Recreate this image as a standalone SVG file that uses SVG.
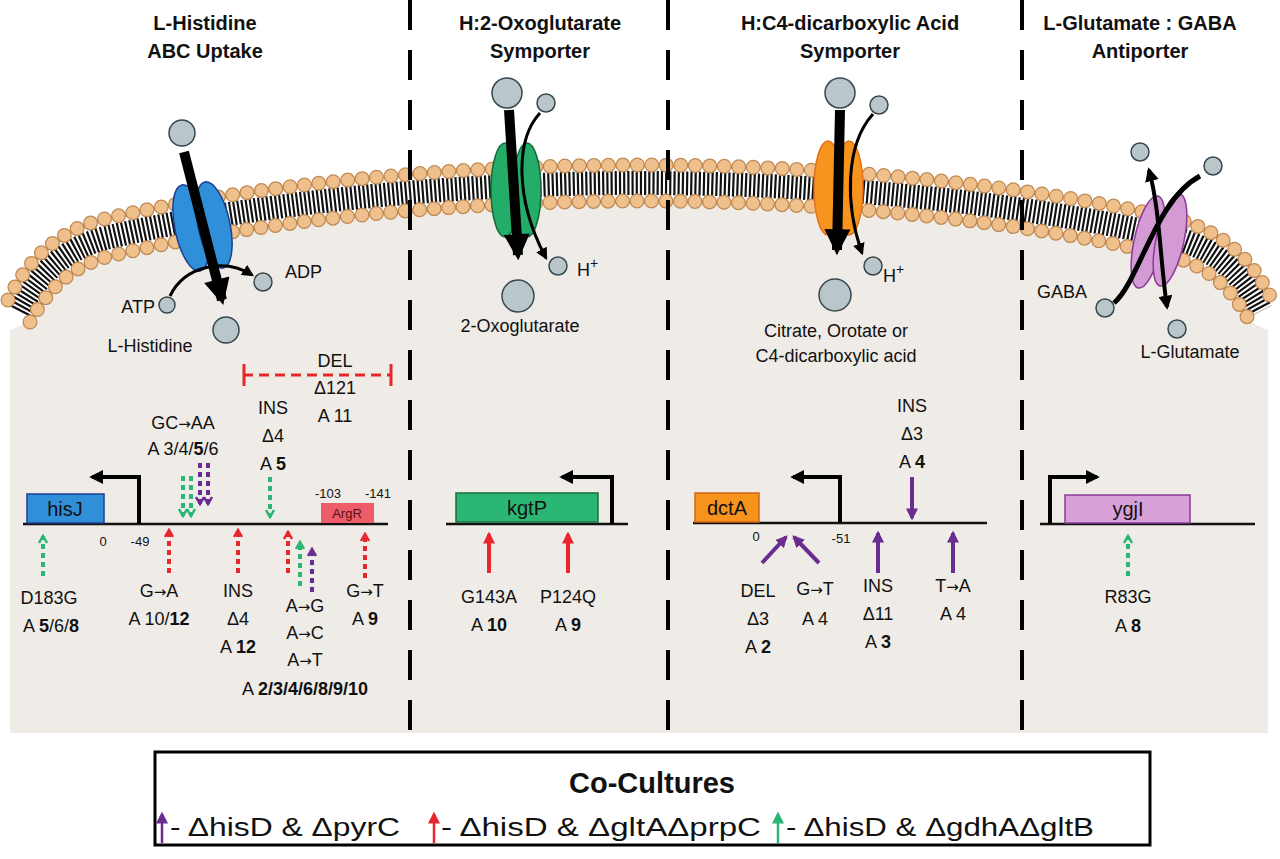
<svg xmlns="http://www.w3.org/2000/svg" width="1280" height="859" viewBox="0 0 1280 859">
<style>
text{font-family:"Liberation Sans",Arial,sans-serif;fill:#111}
.t{font-size:18px;text-anchor:middle}
.ttl{font-size:20px;font-weight:bold;text-anchor:middle}
.sm{font-size:13px;text-anchor:middle}
.b{font-weight:bold}
.ar{font-family:"DejaVu Sans",sans-serif;font-size:15px}
.mol{fill:#b9c6ca;stroke:#37474f;stroke-width:1.5}
.div{stroke:#000;stroke-width:4;stroke-dasharray:30 20}
.base{stroke:#111;stroke-width:2.5}
.prom{fill:none;stroke:#000;stroke-width:4}
.big{stroke:#000;stroke-width:10;fill:none}
.thin{stroke:#000;stroke-width:3;fill:none}
.dp{stroke:#6a2c91;stroke-width:4;stroke-dasharray:5 4;fill:none}
.dr{stroke:#e8262b;stroke-width:4;stroke-dasharray:5 4;fill:none}
.dg{stroke:#2bb673;stroke-width:4;stroke-dasharray:5 4;fill:none}
.sp{stroke:#6a2c91;stroke-width:4;fill:none}
.sr{stroke:#e8262b;stroke-width:4;fill:none}
.ho{fill:none;stroke:#c08a55;stroke-width:15;stroke-linecap:round;stroke-dasharray:0 14.5}
.hi{fill:none;stroke:#f0c08c;stroke-width:12.5;stroke-linecap:round;stroke-dasharray:0 14.5}
</style>
<defs>
<marker id="hBig" viewBox="0 0 10 10" refX="8" refY="5" markerUnits="userSpaceOnUse" markerWidth="28" markerHeight="26" orient="auto"><path d="M0,0 L10,5 L0,10 Z" fill="#000"/></marker>
<marker id="hThin" viewBox="0 0 10 10" refX="8" refY="5" markerUnits="userSpaceOnUse" markerWidth="12" markerHeight="12" orient="auto"><path d="M0,0 L10,5 L0,10 Z" fill="#000"/></marker>
<marker id="hBlk" viewBox="0 0 10 10" refX="8" refY="5" markerUnits="userSpaceOnUse" markerWidth="14" markerHeight="14" orient="auto-start-reverse"><path d="M0,0 L10,5 L0,10 Z" fill="#000"/></marker>
<marker id="cP" viewBox="0 0 10 10" refX="8" refY="5" markerUnits="userSpaceOnUse" markerWidth="10" markerHeight="10" orient="auto"><path d="M1,1 L8,5 L1,9" fill="none" stroke="#6a2c91" stroke-width="2.5"/></marker>
<marker id="cR" viewBox="0 0 10 10" refX="8" refY="5" markerUnits="userSpaceOnUse" markerWidth="10" markerHeight="10" orient="auto"><path d="M1,1 L8,5 L1,9" fill="none" stroke="#e8262b" stroke-width="2.5"/></marker>
<marker id="cG" viewBox="0 0 10 10" refX="8" refY="5" markerUnits="userSpaceOnUse" markerWidth="10" markerHeight="10" orient="auto"><path d="M1,1 L8,5 L1,9" fill="none" stroke="#2bb673" stroke-width="2.5"/></marker>
<marker id="fP" viewBox="0 0 10 10" refX="8" refY="5" markerUnits="userSpaceOnUse" markerWidth="12" markerHeight="12" orient="auto"><path d="M0,0 L10,5 L0,10 Z" fill="#6a2c91"/></marker>
<marker id="fR" viewBox="0 0 10 10" refX="8" refY="5" markerUnits="userSpaceOnUse" markerWidth="12" markerHeight="12" orient="auto"><path d="M0,0 L10,5 L0,10 Z" fill="#e8262b"/></marker>
<marker id="fG" viewBox="0 0 10 10" refX="8" refY="5" markerUnits="userSpaceOnUse" markerWidth="12" markerHeight="12" orient="auto"><path d="M0,0 L10,5 L0,10 Z" fill="#2bb673"/></marker>
<path id="pOut" d="M8,300 C30,255 60,232 100,220 C250,185 450,165 640,165 C830,165 1030,185 1180,220 C1220,232 1250,255 1272,300"/>
<path id="pIn" d="M30,322 C50,285 75,265 110,256 C260,220 455,201 640,201 C825,201 1020,220 1170,256 C1205,265 1230,285 1250,322"/>
</defs>
<rect width="1280" height="859" fill="#fff"/>
<path d="M30,322 C50,285 75,265 110,256 C260,220 455,201 640,201 C825,201 1020,220 1170,256 C1205,265 1230,285 1250,322 L1268,330 L1268,733 L10,733 L10,330 Z" fill="#efebe6"/>
<g id="membrane">
<path d="M19,311 C40,270 68,248 105,238 C255,203 452,183 640,183 C828,183 1025,203 1175,238 C1212,248 1240,270 1261,311" fill="none" stroke="#111" stroke-width="24" stroke-dasharray="2.2 2"/>
<use href="#pOut" class="ho"/><use href="#pOut" class="hi"/>
<use href="#pIn" class="ho"/><use href="#pIn" class="hi"/>
</g>
<g id="dividers">
<line class="div" x1="410" y1="0" x2="410" y2="735"/>
<line class="div" x1="668" y1="0" x2="668" y2="735"/>
<line class="div" x1="1022" y1="0" x2="1022" y2="735"/>
</g>
<g id="titles">
<text class="ttl" x="205" y="30">L-Histidine</text><text class="ttl" x="205" y="58">ABC Uptake</text>
<text class="ttl" x="540" y="30">H:2-Oxoglutarate</text><text class="ttl" x="540" y="58">Symporter</text>
<text class="ttl" x="850" y="30">H:C4-dicarboxylic Acid</text><text class="ttl" x="850" y="58">Symporter</text>
<text class="ttl" x="1140" y="30">L-Glutamate : GABA</text><text class="ttl" x="1140" y="58">Antiporter</text>
</g>
<g id="abc">
<ellipse cx="191" cy="228" rx="16" ry="44" transform="rotate(-12 191 228)" fill="#2f8fd8" stroke="#1d3f8f" stroke-width="1.5"/>
<ellipse cx="214" cy="225" rx="16" ry="44" transform="rotate(-12 214 225)" fill="#2f8fd8" stroke="#1d3f8f" stroke-width="1.5"/>
<circle class="mol" cx="182" cy="133" r="13"/>
<line class="big" x1="184" y1="152" x2="222" y2="300" marker-end="url(#hBig)"/>
<circle class="mol" cx="226" cy="330" r="13"/>
<path class="thin" d="M170,296 C185,265 225,258 252,275" marker-end="url(#hThin)"/>
<circle class="mol" cx="167" cy="305" r="8"/>
<circle class="mol" cx="263" cy="282" r="9"/>
<text x="155" y="313" style="font-size:18px;text-anchor:end">ATP</text>
<text x="285" y="278" style="font-size:18px">ADP</text>
<text class="t" x="150" y="352">L-Histidine</text>
</g>
<g id="kgtp-transporter">
<ellipse cx="505" cy="190" rx="14" ry="47" fill="#23ad68" stroke="#136b3a" stroke-width="1.5"/>
<ellipse cx="527" cy="190" rx="14" ry="47" fill="#23ad68" stroke="#136b3a" stroke-width="1.5"/>
<circle class="mol" cx="507" cy="93" r="15"/>
<circle class="mol" cx="546" cy="103" r="9"/>
<line class="big" x1="509" y1="110" x2="518" y2="255" marker-end="url(#hBig)"/>
<path class="thin" d="M540,113 C515,140 515,200 546,258" marker-end="url(#hThin)"/>
<circle class="mol" cx="518" cy="296" r="16"/>
<circle class="mol" cx="558" cy="266" r="9"/>
<text x="577" y="276" style="font-size:18px">H<tspan dy="-8" font-size="14">+</tspan></text>
<text class="t" x="520" y="332">2-Oxoglutarate</text>
</g>
<g id="dcta-transporter">
<ellipse cx="828" cy="188" rx="14" ry="47" fill="#f7941d" stroke="#e0701a" stroke-width="1.5"/>
<ellipse cx="849" cy="188" rx="14" ry="47" fill="#f7941d" stroke="#e0701a" stroke-width="1.5"/>
<circle class="mol" cx="840" cy="93" r="15"/>
<circle class="mol" cx="879" cy="105" r="9"/>
<line class="big" x1="840" y1="110" x2="837" y2="250" marker-end="url(#hBig)"/>
<path class="thin" d="M873,114 C845,145 845,205 862,253" marker-end="url(#hThin)"/>
<circle class="mol" cx="835" cy="295" r="16"/>
<circle class="mol" cx="873" cy="266" r="9"/>
<text x="883" y="282" style="font-size:18px">H<tspan dy="-8" font-size="14">+</tspan></text>
<text class="t" x="836" y="337">Citrate, Orotate or</text>
<text class="t" x="836" y="362">C4-dicarboxylic acid</text>
</g>
<g id="gaba-transporter">
<ellipse cx="1148" cy="242" rx="14" ry="47" transform="rotate(12 1148 242)" fill="#d39ad3" stroke="#8a3a9a" stroke-width="1.5"/>
<ellipse cx="1170" cy="240" rx="14" ry="47" transform="rotate(12 1170 240)" fill="#d39ad3" stroke="#8a3a9a" stroke-width="1.5"/>
<circle class="mol" cx="1140" cy="152" r="9"/>
<circle class="mol" cx="1213" cy="166" r="9"/>
<circle class="mol" cx="1105" cy="308" r="9"/>
<circle class="mol" cx="1177" cy="329" r="9"/>
<path d="M1114,303 C1140,280 1155,200 1200,176" fill="none" stroke="#000" stroke-width="5"/>
<path d="M1167,307 C1160,260 1160,210 1149,170" fill="none" stroke="#000" stroke-width="4" marker-start="url(#hBlk)" marker-end="url(#hBlk)"/>
<text class="t" x="1062" y="298">GABA</text>
<text class="t" x="1190" y="358">L-Glutamate</text>
</g>
<g id="hisJ">
<line class="base" x1="23" y1="524" x2="388" y2="524"/>
<rect x="27" y="494" width="77" height="29" fill="#2f8fd8" stroke="#1d3f8f" stroke-width="1.5"/>
<text class="t" x="65" y="516" style="font-size:20px">hisJ</text>
<path class="prom" d="M139,524 L139,477 L92,477" marker-end="url(#hBlk)"/>
<text class="sm" x="103" y="546">0</text><text class="sm" x="140" y="546">-49</text>
<text class="sm" x="328" y="498">-103</text><text class="sm" x="378" y="498">-141</text>
<rect x="321" y="503" width="53" height="20" fill="#ee5c6a"/>
<text class="sm" x="347" y="518" style="fill:#5a1010">ArgR</text>
<path d="M243,375 L392,375" stroke="#e8262b" stroke-width="3" stroke-dasharray="10 6"/>
<path d="M244,364 L244,386 M391,364 L391,386" stroke="#e8262b" stroke-width="3"/>
<text class="t" x="335" y="367">DEL</text><text class="t" x="335" y="394">Δ121</text><text class="t" x="335" y="422">A 11</text>
<text class="t" x="273" y="414">INS</text><text class="t" x="273" y="442">Δ4</text><text class="t" x="273" y="470">A <tspan class="b">5</tspan></text>
<text class="t" x="183" y="429">GC<tspan class="ar">→</tspan>AA</text><text class="t" x="183" y="455">A 3/4/<tspan class="b">5</tspan>/6</text>
<text class="t" x="49" y="604">D183G</text><text class="t" x="51" y="632">A <tspan class="b">5</tspan>/6/<tspan class="b">8</tspan></text>
<text class="t" x="159" y="597">G<tspan class="ar">→</tspan>A</text><text class="t" x="159" y="625">A 10/<tspan class="b">12</tspan></text>
<text class="t" x="238" y="597">INS</text><text class="t" x="238" y="625">Δ4</text><text class="t" x="238" y="653">A <tspan class="b">12</tspan></text>
<text class="t" x="305" y="612">A<tspan class="ar">→</tspan>G</text><text class="t" x="305" y="639">A<tspan class="ar">→</tspan>C</text><text class="t" x="305" y="666">A<tspan class="ar">→</tspan>T</text>
<text class="t" x="305" y="695">A <tspan class="b">2/3/4/6/8/9/10</tspan></text>
<text class="t" x="365" y="597">G<tspan class="ar">→</tspan>T</text><text class="t" x="365" y="625">A <tspan class="b">9</tspan></text>
</g>
<g id="kgtP">
<line class="base" x1="446" y1="524" x2="628" y2="524"/>
<rect x="456" y="493" width="142" height="29" fill="#2bb673" stroke="#16703f" stroke-width="1.5"/>
<text class="t" x="527" y="515" style="font-size:20px">kgtP</text>
<path class="prom" d="M612,524 L612,477 L562,477" marker-end="url(#hBlk)"/>
<text class="t" x="489" y="603">G143A</text><text class="t" x="489" y="631">A <tspan class="b">10</tspan></text>
<text class="t" x="568" y="603">P124Q</text><text class="t" x="568" y="631">A <tspan class="b">9</tspan></text>
</g>
<g id="dctA">
<line class="base" x1="693" y1="523" x2="987" y2="523"/>
<rect x="695" y="493" width="64" height="29" fill="#f7941d" stroke="#d0661a" stroke-width="1.5"/>
<text class="t" x="727" y="515" style="font-size:20px">dctA</text>
<path class="prom" d="M840,523 L840,477 L793,477" marker-end="url(#hBlk)"/>
<text class="sm" x="756" y="541">0</text><text class="sm" x="841" y="543">-51</text>
<text class="t" x="912" y="412">INS</text><text class="t" x="912" y="440">Δ3</text><text class="t" x="912" y="468">A <tspan class="b">4</tspan></text>
<text class="t" x="758" y="597">DEL</text><text class="t" x="758" y="625">Δ3</text><text class="t" x="758" y="653">A <tspan class="b">2</tspan></text>
<text class="t" x="815" y="595">G<tspan class="ar">→</tspan>T</text><text class="t" x="815" y="625">A 4</text>
<text class="t" x="878" y="592">INS</text><text class="t" x="878" y="620">Δ11</text><text class="t" x="878" y="648">A <tspan class="b">3</tspan></text>
<text class="t" x="953" y="592">T<tspan class="ar">→</tspan>A</text><text class="t" x="953" y="620">A 4</text>
</g>
<g id="ygjI">
<line class="base" x1="1040" y1="524" x2="1255" y2="524"/>
<rect x="1065" y="495" width="125" height="28" fill="#d8a0d8" stroke="#8a3a9a" stroke-width="1.5"/>
<text class="t" x="1128" y="516" style="font-size:20px">ygjI</text>
<path class="prom" d="M1050,524 L1050,477 L1097,477" marker-end="url(#hBlk)"/>
<text class="t" x="1128" y="603">R83G</text><text class="t" x="1128" y="632">A <tspan class="b">8</tspan></text>
</g>
<g id="connectors">
<line class="dg" x1="183" y1="476" x2="183" y2="516" marker-end="url(#cG)"/>
<line class="dg" x1="191" y1="476" x2="191" y2="516" marker-end="url(#cG)"/>
<line class="dp" x1="200" y1="463" x2="200" y2="504" marker-end="url(#cP)"/>
<line class="dp" x1="208" y1="463" x2="208" y2="504" marker-end="url(#cP)"/>
<line class="dg" x1="270" y1="477" x2="270" y2="517" marker-end="url(#cG)"/>
<line class="dg" x1="43" y1="576" x2="43" y2="536" marker-end="url(#cG)"/>
<line class="dr" x1="169" y1="573" x2="169" y2="530" marker-end="url(#cR)"/>
<line class="dr" x1="238" y1="573" x2="238" y2="530" marker-end="url(#cR)"/>
<line class="dr" x1="288" y1="573" x2="288" y2="532" marker-end="url(#cR)"/>
<line class="dg" x1="300" y1="586" x2="300" y2="542" marker-end="url(#cG)"/>
<line class="dp" x1="312" y1="592" x2="312" y2="549" marker-end="url(#cP)"/>
<line class="dr" x1="365" y1="578" x2="365" y2="534" marker-end="url(#cR)"/>
<line class="sr" x1="489" y1="573" x2="489" y2="534" marker-end="url(#fR)"/>
<line class="sr" x1="568" y1="573" x2="568" y2="534" marker-end="url(#fR)"/>
<line class="sp" x1="762" y1="563" x2="786" y2="537" marker-end="url(#fP)"/>
<line class="sp" x1="819" y1="563" x2="794" y2="537" marker-end="url(#fP)"/>
<line class="sp" x1="878" y1="573" x2="878" y2="533" marker-end="url(#fP)"/>
<line class="sp" x1="953" y1="573" x2="953" y2="533" marker-end="url(#fP)"/>
<line class="sp" x1="912" y1="477" x2="912" y2="518" marker-end="url(#fP)"/>
<line class="dg" x1="1128" y1="576" x2="1128" y2="536" marker-end="url(#cG)"/>
</g>
<g id="legend">
<rect x="155" y="752" width="995" height="93" fill="#fff" stroke="#000" stroke-width="3"/>
<text x="652" y="793" style="font-size:29px;font-weight:bold;text-anchor:middle">Co-Cultures</text>
<line x1="162" y1="843" x2="162" y2="814" stroke="#6a2c91" stroke-width="2.5" marker-end="url(#fP)"/>
<text x="170" y="836" style="font-size:25px" textLength="230" lengthAdjust="spacingAndGlyphs">- ΔhisD &amp; ΔpyrC</text>
<line x1="434" y1="843" x2="434" y2="814" stroke="#e8262b" stroke-width="2.5" marker-end="url(#fR)"/>
<text x="441" y="836" style="font-size:25px" textLength="320" lengthAdjust="spacingAndGlyphs">- ΔhisD &amp; ΔgltAΔprpC</text>
<line x1="778" y1="843" x2="778" y2="814" stroke="#2bb673" stroke-width="2.5" marker-end="url(#fG)"/>
<text x="786" y="836" style="font-size:25px" textLength="308" lengthAdjust="spacingAndGlyphs">- ΔhisD &amp; ΔgdhAΔgltB</text>
</g>
</svg>
